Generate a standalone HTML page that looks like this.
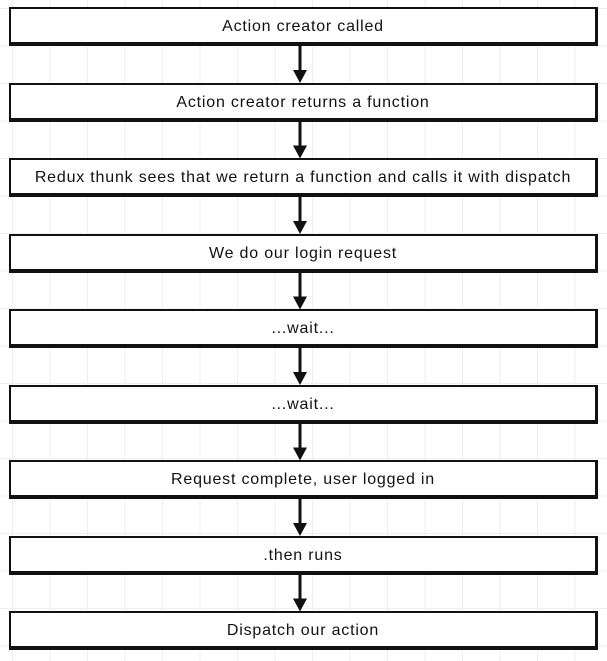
<!DOCTYPE html>
<html><head><style>
html,body{margin:0;padding:0;}
body{width:607px;height:661px;position:relative;overflow:hidden;background:#fff;
background-image:linear-gradient(to right,#efefef 1px,transparent 1px),linear-gradient(to bottom,#efefef 1px,transparent 1px);
background-size:37.5px 37.5px;background-position:12px 8px;}
.b{position:absolute;left:9px;width:584px;height:33px;background:#fff;border-style:solid;border-color:#111;border-width:2px 3px 4px 2px;
font-family:"Liberation Sans",sans-serif;font-size:16px;letter-spacing:0.8px;color:#111;text-align:center;line-height:35px;box-sizing:content-box;white-space:nowrap;}
svg{position:absolute;left:0;top:0;}
</style></head><body>
<svg width="607" height="661">
<g fill="#111" stroke="#111">
<g id="a">
<line x1="300" y1="45" x2="300" y2="73" stroke-width="3"/>
<polygon points="293,70 307,70 300,83" stroke="none"/>
</g>
<use href="#a" y="75.5"/>
<use href="#a" y="151"/>
<use href="#a" y="226.5"/>
<use href="#a" y="302"/>
<use href="#a" y="377.5"/>
<use href="#a" y="453"/>
<use href="#a" y="528.5"/>
</g>
</svg>
<div class="b" style="top:7px">Action creator called</div>
<div class="b" style="top:82.5px">Action creator returns a function</div>
<div class="b" style="top:158px">Redux thunk sees that we return a function and calls it with dispatch</div>
<div class="b" style="top:233.5px">We do our login request</div>
<div class="b" style="top:309px">...wait...</div>
<div class="b" style="top:384.5px">...wait...</div>
<div class="b" style="top:460px">Request complete, user logged in</div>
<div class="b" style="top:535.5px">.then runs</div>
<div class="b" style="top:611px">Dispatch our action</div>
</body></html>
